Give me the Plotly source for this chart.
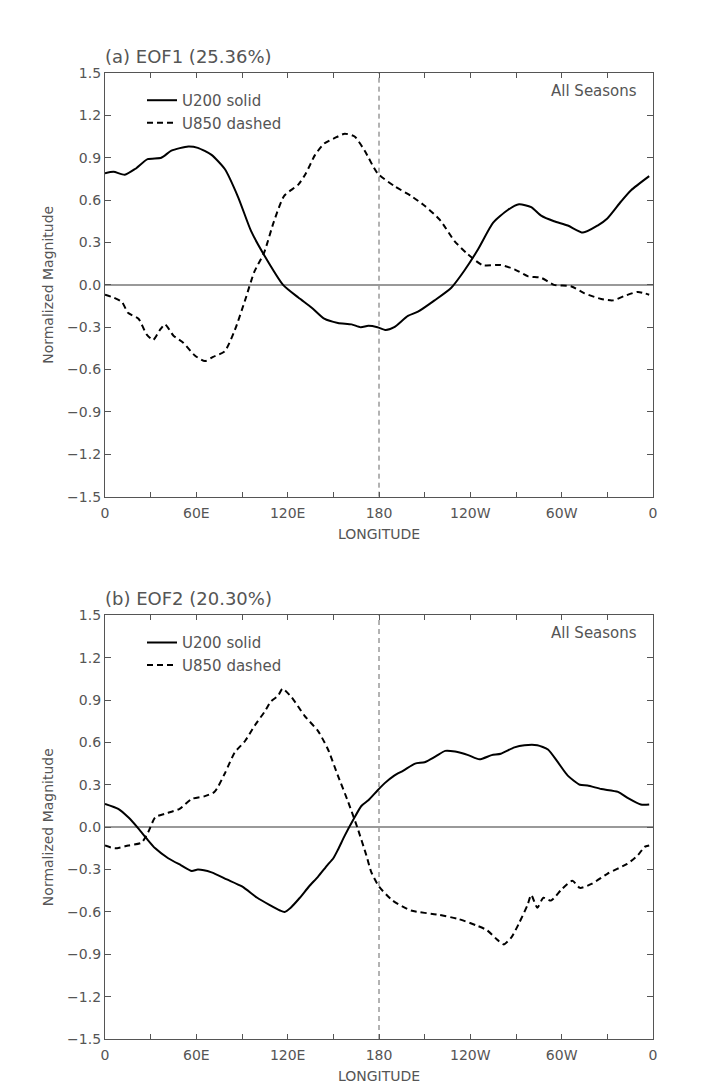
import plotly.graph_objects as go

# ---- data ----
lon_a_u200 = [0, 5.6, 13, 19.7, 28, 37, 43.6, 54.7, 61, 70, 78.7, 87.5, 96, 104.6, 117, 127, 135.6, 144, 153, 162, 168, 173, 179,
              184.5, 190, 199, 205.6, 216.5, 227.5, 236, 245, 255, 264.6, 272, 280, 286.5, 295, 304, 314, 323.6, 330, 339, 345.6, 357.5]
val_a_u200 = [0.79, 0.80, 0.78, 0.82, 0.89, 0.90, 0.95, 0.98, 0.97, 0.92, 0.82, 0.62, 0.38, 0.21, 0.00, -0.09, -0.16, -0.24, -0.27, -0.28, -0.30, -0.29, -0.30,
              -0.32, -0.30, -0.22, -0.19, -0.11, -0.02, 0.10, 0.25, 0.44, 0.53, 0.57, 0.55, 0.49, 0.45, 0.42, 0.37, 0.42, 0.47, 0.59, 0.67, 0.77]

lon_a_u850 = [0, 5.5, 11, 15.3, 22, 27.3, 31.7, 36, 39.4, 45, 51.4, 59, 65.6, 71, 78.7, 85.3, 92, 98, 104.6, 111, 117.7, 127, 132, 138, 144,
              151, 157.5, 164, 170.6, 179, 190, 201, 210, 220, 229.6, 238, 248, 260, 269, 278, 286.5, 295, 306, 315, 326, 333.6, 341, 350, 357.5]
val_a_u850 = [-0.07, -0.09, -0.12, -0.20, -0.24, -0.35, -0.39, -0.32, -0.28, -0.36, -0.41, -0.50, -0.54, -0.51, -0.47, -0.32, -0.11, 0.09, 0.23, 0.45, 0.63, 0.71, 0.79, 0.92, 1.00,
              1.04, 1.07, 1.05, 0.95, 0.79, 0.70, 0.63, 0.56, 0.46, 0.31, 0.22, 0.14, 0.14, 0.11, 0.06, 0.05, 0.00, -0.01, -0.06, -0.10, -0.11, -0.08, -0.05, -0.07]

lon_b_u200 = [0, 8.7, 15.3, 22, 27.3, 33, 41.5, 50, 57, 61, 70, 80, 90, 100, 108, 115, 118, 122, 128, 134, 140, 146, 150, 153, 157.5, 163, 168.4,
              173, 179, 183.6, 190, 196, 203.7, 210, 217, 223.5, 230, 238.6, 246, 254, 260, 269, 275.6, 284, 291, 297.5, 304, 312, 317, 326, 337, 343.6, 352, 357.5]
val_b_u200 = [0.165, 0.13, 0.07, -0.01, -0.08, -0.15, -0.22, -0.27, -0.31, -0.30, -0.32, -0.37, -0.42, -0.50, -0.55, -0.59, -0.60, -0.57, -0.50, -0.42, -0.35, -0.27, -0.22, -0.16, -0.06, 0.05, 0.15,
              0.19, 0.26, 0.31, 0.365, 0.40, 0.45, 0.46, 0.50, 0.54, 0.535, 0.51, 0.48, 0.51, 0.52, 0.565, 0.58, 0.58, 0.55, 0.46, 0.365, 0.30, 0.295, 0.27, 0.25, 0.205, 0.16, 0.16]

lon_b_u850 = [0, 6.6, 15.3, 24, 28.4, 33, 39.4, 49, 57, 65.6, 72, 78.7, 85.3, 92, 98.4, 105, 109, 113.7, 116.6, 122.6, 131, 140, 146.5, 153, 159.7,
              166, 171.7, 175, 180, 189, 201, 219, 232, 245, 251, 258, 262, 267, 272, 277.6, 280, 284, 288, 293, 300, 307, 312, 320, 330, 343, 350, 354.4, 357.5]
val_b_u850 = [-0.13, -0.15, -0.13, -0.11, -0.035, 0.07, 0.095, 0.13, 0.20, 0.22, 0.25, 0.38, 0.53, 0.61, 0.72, 0.82, 0.89, 0.93, 0.98, 0.92, 0.79, 0.68, 0.55, 0.365, 0.18,
              -0.01, -0.20, -0.32, -0.42, -0.52, -0.59, -0.62, -0.65, -0.70, -0.73, -0.80, -0.83, -0.78, -0.68, -0.55, -0.48, -0.57, -0.50, -0.52, -0.44, -0.38, -0.43, -0.40, -0.33, -0.26, -0.20, -0.14, -0.13]

x_tickvals = [0, 30, 60, 90, 120, 150, 180, 210, 240, 270, 300, 330, 360]
x_ticktext = ["0", "", "60E", "", "120E", "", "180", "", "120W", "", "60W", "", "0"]
y_tickvals = [-1.5, -1.2, -0.9, -0.6, -0.3, 0.0, 0.3, 0.6, 0.9, 1.2, 1.5]

titles = ["(a) EOF1 (25.36%)", "(b) EOF2 (20.30%)"]
season_label = "All Seasons"
name_u200 = "U200 solid"
name_u850 = "U850 dashed"
ref_lon = 180

FONT = "DejaVu Sans"
TXT = "#555555"
FRAME = "#555555"

fig = go.Figure()

panels = [
    ("x", "y", "legend", lon_a_u200, val_a_u200, lon_a_u850, val_a_u850),
    ("x2", "y2", "legend2", lon_b_u200, val_b_u200, lon_b_u850, val_b_u850),
]
for xa, ya, lg, lx1, v1, lx2, v2 in panels:
    fig.add_trace(go.Scatter(x=lx1, y=v1, mode="lines", name=name_u200, xaxis=xa, yaxis=ya, legend=lg,
                             line=dict(color="black", width=2, shape="spline", smoothing=0.6)))
    fig.add_trace(go.Scatter(x=lx2, y=v2, mode="lines", name=name_u850, xaxis=xa, yaxis=ya, legend=lg,
                             line=dict(color="black", width=2, dash="6px,4px", shape="spline", smoothing=0.6)))

W, H = 725, 1086
ml, mr, mt, mb = 97, 80, 65, 52
ph = H - mt - mb
top_y0 = (H - mb - 490) / ph
bot_y1 = (H - mb - 609) / ph


def py(pix):
    return (H - mb - pix) / ph


def px(pix):
    return (pix - ml) / (W - ml - mr)


xaxis_common = dict(range=[0, 360], tickvals=x_tickvals, ticktext=x_ticktext, ticks="inside", ticklen=5,
                    tickcolor=FRAME, tickwidth=1, showline=True, linecolor=FRAME, linewidth=1.3, mirror="ticks",
                    showgrid=False, zeroline=False, ticklabelstandoff=3,
                    tickfont=dict(family=FONT, size=14, color=TXT),
                    title=dict(text="LONGITUDE", font=dict(family=FONT, size=14, color=TXT), standoff=9))
yaxis_common = dict(range=[-1.5, 1.5], tickvals=y_tickvals, tickformat=".1f", ticks="inside", ticklen=6,
                    tickcolor=FRAME, tickwidth=1, showline=True, linecolor=FRAME, linewidth=1.3, mirror="ticks",
                    showgrid=False, zeroline=True, zerolinecolor="#999999", zerolinewidth=1.5,
                    tickfont=dict(family=FONT, size=14, color=TXT),
                    title=dict(text="Normalized Magnitude", font=dict(family=FONT, size=14, color=TXT), standoff=10))

legend_common = dict(xanchor="left", yanchor="top", bgcolor="rgba(0,0,0,0)",
                     font=dict(family=FONT, size=15, color=TXT), tracegroupgap=0)

fig.update_layout(
    width=W, height=H,
    margin=dict(l=ml, r=mr, t=mt, b=mb),
    paper_bgcolor="white", plot_bgcolor="white",
    font=dict(family=FONT, color=TXT),
    xaxis=dict(domain=[0, 1], anchor="y", **xaxis_common),
    yaxis=dict(domain=[top_y0, 1], anchor="x", **yaxis_common),
    xaxis2=dict(domain=[0, 1], anchor="y2", **xaxis_common),
    yaxis2=dict(domain=[0, bot_y1], anchor="x2", **yaxis_common),
    legend=dict(x=px(134), y=py(76), **legend_common),
    legend2=dict(x=px(134), y=py(620), **legend_common),
    showlegend=True,
)

# dashed reference meridian at 180 in each panel
for xa, ya in [("x", "y"), ("x2", "y2")]:
    fig.add_shape(type="line", xref=xa, yref=ya + " domain", x0=ref_lon, x1=ref_lon, y0=0, y1=1,
                  line=dict(color="#666666", width=1, dash="5px,4px"), layer="below")

# panel titles and season labels
for title, ctr_title, ctr_season in [(titles[0], 48, 83), (titles[1], 592, 627)]:
    fig.add_annotation(text=title, xref="paper", yref="paper", x=px(95), y=py(ctr_title),
                       xanchor="left", yanchor="middle", showarrow=False,
                       font=dict(family=FONT, size=18, color=TXT))
    fig.add_annotation(text=season_label, xref="paper", yref="paper", x=px(631), y=py(ctr_season),
                       xanchor="right", yanchor="middle", showarrow=False,
                       font=dict(family=FONT, size=15, color=TXT))

fig.write_html("out.html")
